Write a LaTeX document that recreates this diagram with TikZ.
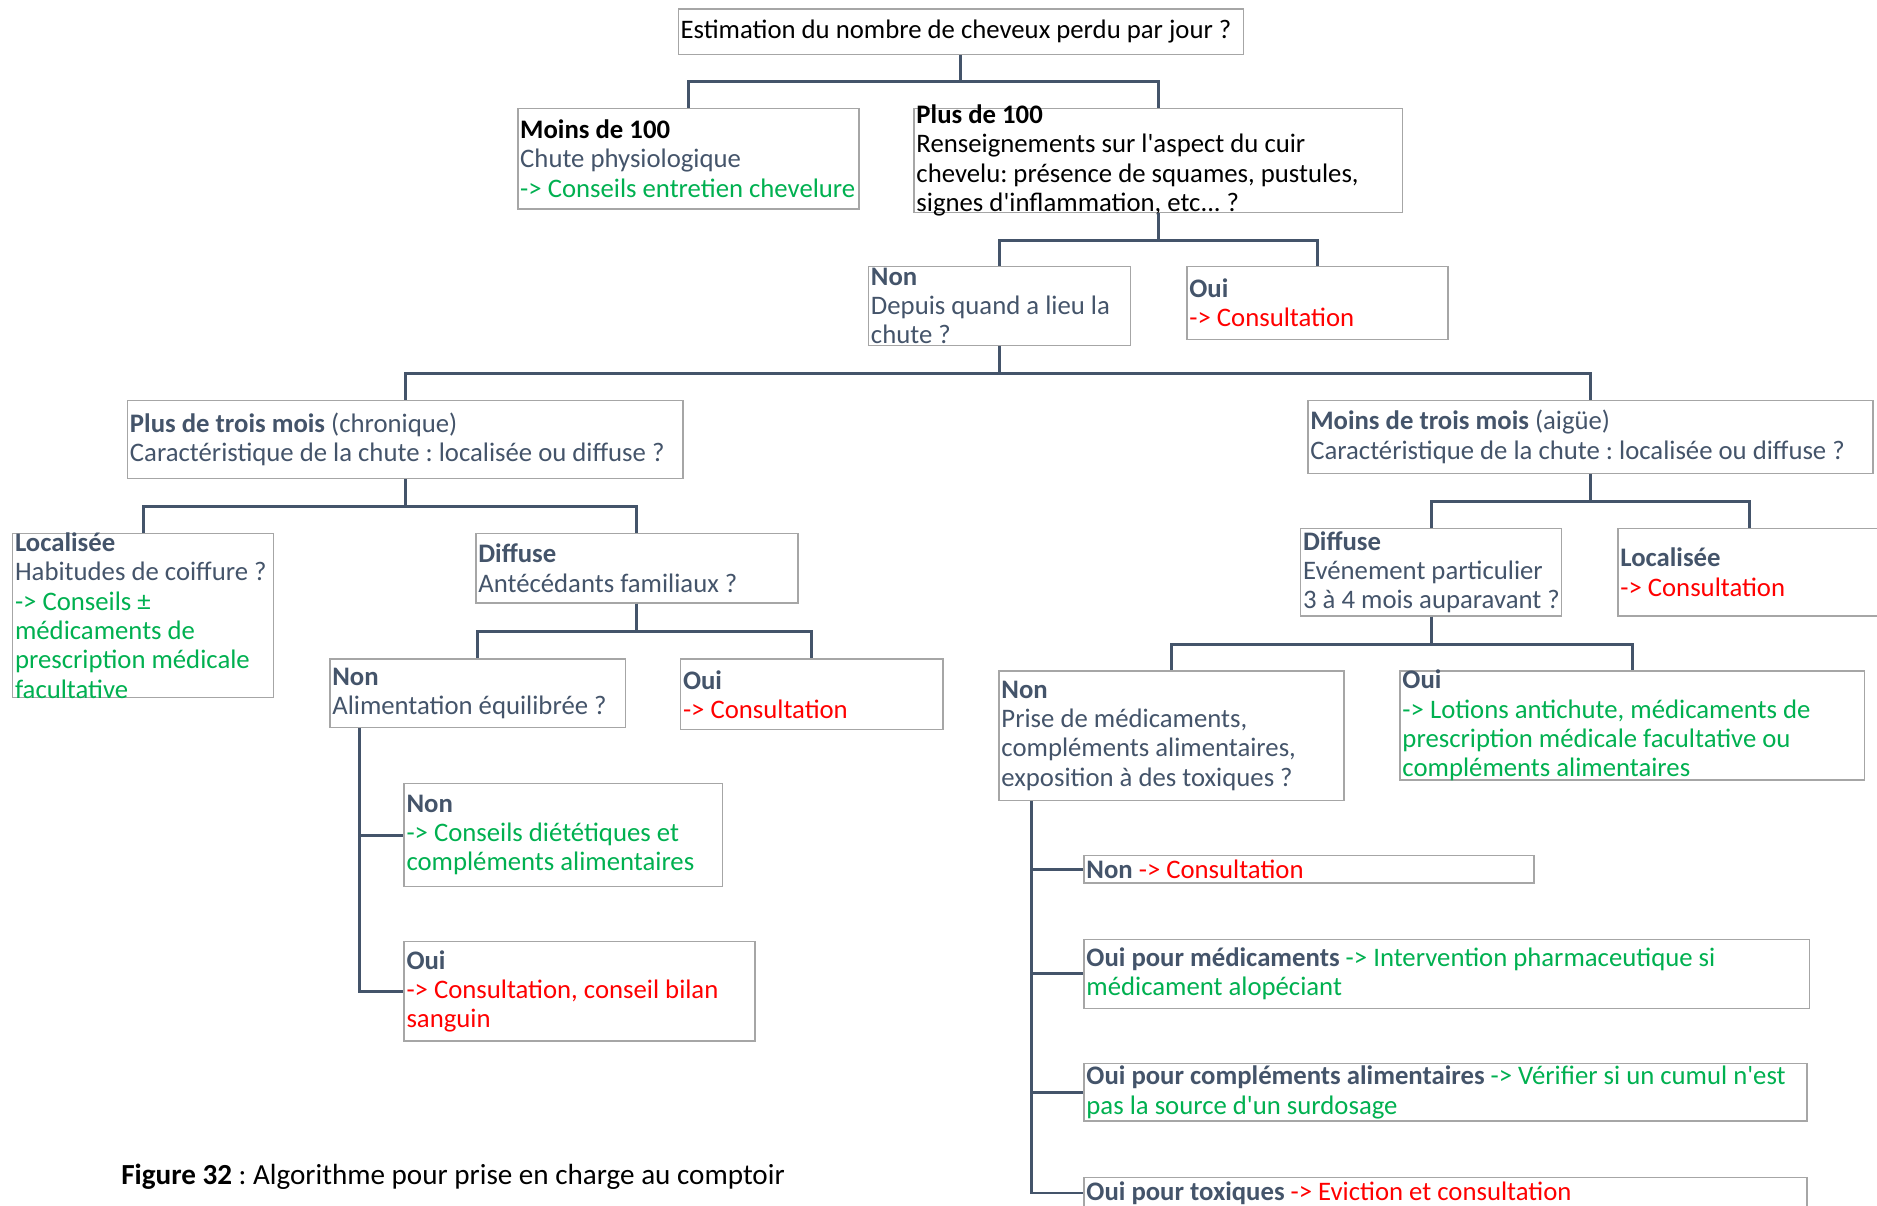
\documentclass[tikz,border=0pt]{standalone}
\usepackage{fontspec}
\setmainfont{Carlito}
\usetikzlibrary{positioning}
\frenchspacing
\definecolor{slate}{HTML}{44546A}
\definecolor{okgreen}{HTML}{00B050}
\definecolor{alert}{HTML}{FF0000}
\definecolor{boxgray}{HTML}{A6A6A6}
\newlength\px
\setlength\px{0.6pt}
% box content: width, height, text (overflow allowed)
\newcommand{\boxtext}[3]{\vbox to #2\px{\hsize=#1\px\raggedright\leftskip=2\px\vss#3\par\vss}}
\newcommand{\grn}[1]{\textcolor{okgreen}{#1}}
\newcommand{\rd}[1]{\textcolor{alert}{#1}}
\newcommand{\q}{\textquotesingle}

\begin{document}
\begin{tikzpicture}[x=0.6pt, y=-0.6pt,
    box/.style={draw=boxgray, line width=0.7pt, inner sep=0pt, anchor=north west,
      text=slate, font=\fontsize{13.4}{14.7}\selectfont},
    link/.style={draw=slate, line width=1.5pt}]
  \useasboundingbox (0,0) rectangle (1568,1007);

  \node[box, text=black] (top) at (566,7) {\boxtext{472}{38}{Estimation du nombre de cheveux perdu par jour ?}};
  \node[box] (moins) at (432,90) {\boxtext{285}{84}{\textcolor{black}{\textbf{Moins de 100}}\\ Chute physiologique\\ \grn{-> Conseils entretien chevelure}}};
  \node[box, text=black] (plus) at (763,90) {\boxtext{408}{87}{\textbf{Plus de 100}\\ Renseignements sur l\q aspect du cuir\\ chevelu: présence de squames, pustules,\\ signes d\q inflammation, etc... ?}};
  \node[box] (non1) at (725,222) {\boxtext{219}{66}{\textbf{Non}\\ Depuis quand a lieu la\\ chute ?}};
  \node[box] (oui1) at (991,222) {\boxtext{218}{61}{\textbf{Oui}\\ \rd{-> Consultation}}};
  \node[box] (chron) at (106,334) {\boxtext{464}{65}{\textbf{Plus de trois mois} (chronique)\\ Caractéristique de la chute : localisée ou diffuse ?}};
  \node[box] (aigue) at (1092,334) {\boxtext{472}{61}{\textbf{Moins de trois mois} (aigüe)\\ Caractéristique de la chute : localisée ou diffuse ?}};

  % chronique
  \node[box] (loc1) at (10,445) {\boxtext{218}{137}{\textbf{Localisée}\\ Habitudes de coiffure ?\\ \grn{-> Conseils ±\\ médicaments de\\ prescription médicale\\ facultative}}};
  \node[box] (diff1) at (397,445) {\boxtext{269}{58}{\textbf{Diffuse}\\ Antécédants familiaux ?}};
  \node[box] (non2) at (275,550) {\boxtext{247}{57}{\textbf{Non}\\ Alimentation équilibrée ?}};
  \node[box] (oui2) at (568,550) {\boxtext{219}{59}{\textbf{Oui}\\ \rd{-> Consultation}}};
  \node[box] (non3) at (337,654) {\boxtext{266}{86}{\textbf{Non}\\ \grn{-> Conseils diététiques et\\ compléments alimentaires}}};
  \node[box] (oui3) at (337,786) {\boxtext{293}{83}{\textbf{Oui}\\ \rd{-> Consultation, conseil bilan\\ sanguin}}};

  % aigue
  \node[box] (diff2) at (1086,441) {\boxtext{218}{73}{\textbf{Diffuse}\\ Evénement particulier\\ 3 à 4 mois auparavant ?}};
  \node[box] (loc2) at (1351,441) {\boxtext{220}{73}{\textbf{Localisée}\\ \rd{-> Consultation}}};
  \node[box] (non4) at (834,560) {\boxtext{288}{108}{\textbf{Non}\\ Prise de médicaments,\\ compléments alimentaires,\\ exposition à des toxiques ?}};
  \node[box] (oui4) at (1169,560) {\boxtext{388}{91}{\textbf{Oui}\\ \grn{-> Lotions antichute, médicaments de\\ prescription médicale facultative ou\\ compléments alimentaires}}};
  \node[box] (n5) at (905,714) {\boxtext{376}{23}{\textbf{Non} \rd{-> Consultation}}};
  \node[box] (o5a) at (905,784) {\boxtext{606}{58}{\textbf{Oui pour médicaments} \grn{-> Intervention pharmaceutique si\\ médicament alopéciant}}};
  \node[box] (o5b) at (905,888) {\boxtext{604}{48}{\textbf{Oui pour compléments alimentaires} \grn{-> Vérifier si un cumul n\q est\\ pas la source d\q un surdosage}}};
  \node[box] (o5c) at (905,983) {\boxtext{604}{26}{\textbf{Oui pour toxiques} \rd{-> Eviction et consultation}}};

  \node[anchor=west, inner sep=0pt, font=\fontsize{14.6}{16}\selectfont] (cap) at (101,983)
    {\textbf{Figure 32} : Algorithme pour prise en charge au comptoir};

  % tree
  \draw[link] (top.south) -- ++(0,22) -| (moins.north);
  \draw[link] (top.south) -- ++(0,22) -| (plus.north);
  \draw[link] (plus.south) -- ++(0,23) -| (non1.north);
  \draw[link] (plus.south) -- ++(0,23) -| (oui1.north);
  \draw[link] (non1.south) -- ++(0,23) -| (chron.north);
  \draw[link] (non1.south) -- ++(0,23) -| (aigue.north);
  \draw[link] (chron.south) -- ++(0,23) -| (loc1.north);
  \draw[link] (chron.south) -- ++(0,23) -| (diff1.north);
  \draw[link] (diff1.south) -- ++(0,23) -| (non2.north);
  \draw[link] (diff1.south) -- ++(0,23) -| (oui2.north);
  \draw[link] (aigue.south) -- ++(0,23) -| (diff2.north);
  \draw[link] (aigue.south) -- ++(0,23) -| (loc2.north);
  \draw[link] (diff2.south) -- ++(0,23) -| (non4.north);
  \draw[link] (diff2.south) -- ++(0,23) -| (oui4.north);
  \draw[link] ([xshift=25\px]non2.south west) |- (non3.west);
  \draw[link] ([xshift=25\px]non2.south west) |- (oui3.west);
  \draw[link] ([xshift=28\px]non4.south west) |- (n5.west);
  \draw[link] ([xshift=28\px]non4.south west) |- (o5a.west);
  \draw[link] ([xshift=28\px]non4.south west) |- (o5b.west);
  \draw[link] ([xshift=28\px]non4.south west) |- (o5c.west);
\end{tikzpicture}
\end{document}
